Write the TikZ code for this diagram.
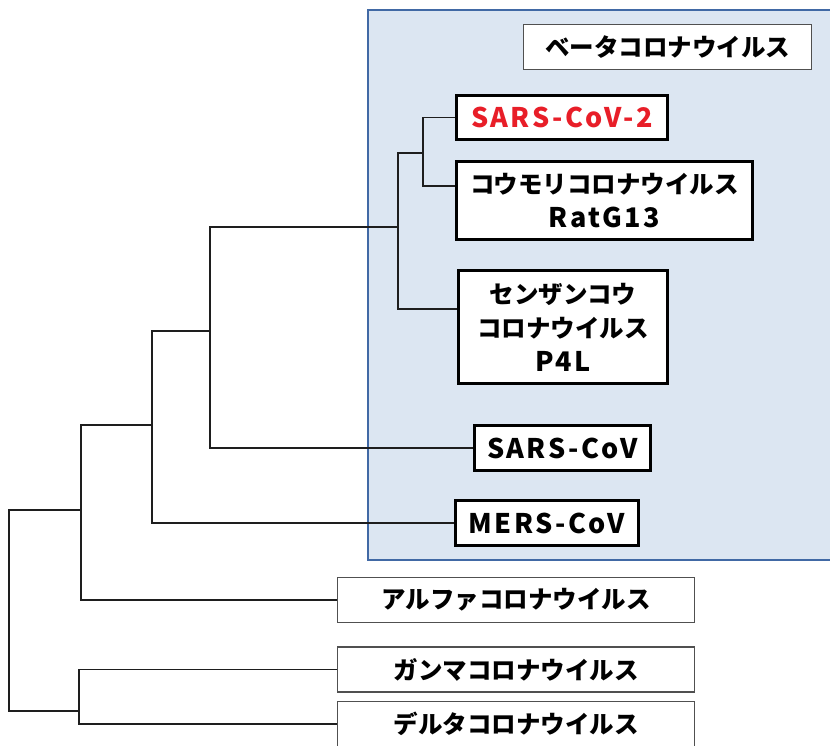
\documentclass[tikz,border=0pt]{standalone}
\usepackage{fontspec}
\setmainfont{Noto Sans CJK JP}
\newfontfamily\latbf{Noto Sans CJK JP}[LetterSpace=9]
\newcommand{\latb}{\latbf\fontsize{27}{34}\selectfont}
\definecolor{betafill}{RGB}{220,230,242}
\definecolor{betaline}{RGB}{65,105,165}
\definecolor{treeline}{RGB}{30,30,30}
\definecolor{thinline}{RGB}{80,80,80}
\definecolor{covred}{RGB}{232,30,40}
\tikzset{
  thickbox/.style={draw=black, line width=3pt, fill=white, inner sep=0pt, align=center,
    font=\fontsize{24.5}{34}\selectfont\bfseries},
  thinbox/.style={draw=thinline, line width=1.2pt, fill=white, inner sep=0pt, align=center,
    font=\fontsize{24.5}{34}\selectfont\bfseries},
  tree/.style={draw=treeline, line width=1.5pt},
  betabg/.style={draw=betaline, line width=1.5pt, fill=betafill, inner sep=0pt}
}
\begin{document}
\begin{tikzpicture}[x=1pt,y=-1pt]
\useasboundingbox (0,0) rectangle (830,745);
\node[betabg, minimum width=478pt, minimum height=550pt, anchor=north west] (betaregion) at (367,9) {};
% nodes
\node[thinbox, minimum width=288pt, minimum height=45pt] (beta) at (667.5,47) {ベータコロナウイルス};
\node[thickbox, minimum width=211pt, minimum height=44pt, text=covred] (sars2) at (562,117.5) {{\latb SARS-CoV-2}};
\node[thickbox, minimum width=296pt, minimum height=78pt] (bat) at (604.5,200.5) {コウモリコロナウイルス\\{\latb RatG13}};
\node[thickbox, minimum width=209pt, minimum height=113pt] (p4l) at (563,327) {センザンコウ\\コロナウイルス\\{\latb P4L}};
\node[thickbox, minimum width=176pt, minimum height=45pt] (sars) at (562.5,448) {{\latb SARS-CoV}};
\node[thickbox, minimum width=183pt, minimum height=45pt] (mers) at (547,523) {{\latb MERS-CoV}};
\node[thinbox, minimum width=357pt, minimum height=45pt] (alpha) at (516,600) {アルファコロナウイルス};
\node[thinbox, minimum width=357pt, minimum height=45pt] (gamma) at (516,669.5) {ガンマコロナウイルス};
\node[thinbox, minimum width=357pt, minimum height=45pt] (delta) at (516,724) {デルタコロナウイルス};
% junctions
\coordinate (jE) at (423,153);
\coordinate (jD) at (398,227);
\coordinate (jC) at (210,331);
\coordinate (jB) at (152,425);
\coordinate (jA) at (81,510);
\coordinate (jG) at (79,711);
\coordinate (jR) at (9,600);
% tree
\draw[tree] (sars2.west) -| (jE) |- ([yshift=14.5pt]bat.west);
\draw[tree] (jE) -| (jD) |- ([yshift=18pt]p4l.west);
\draw[tree] (jD) -| (jC) |- (sars.west);
\draw[tree] (jC) -| (jB) |- (mers.west);
\draw[tree] (jB) -| (jA) |- (alpha.west);
\draw[tree] (gamma.west) -| (jG) |- (delta.west);
\draw[tree] (jA) -| (jR) |- (jG);
\end{tikzpicture}
\end{document}
